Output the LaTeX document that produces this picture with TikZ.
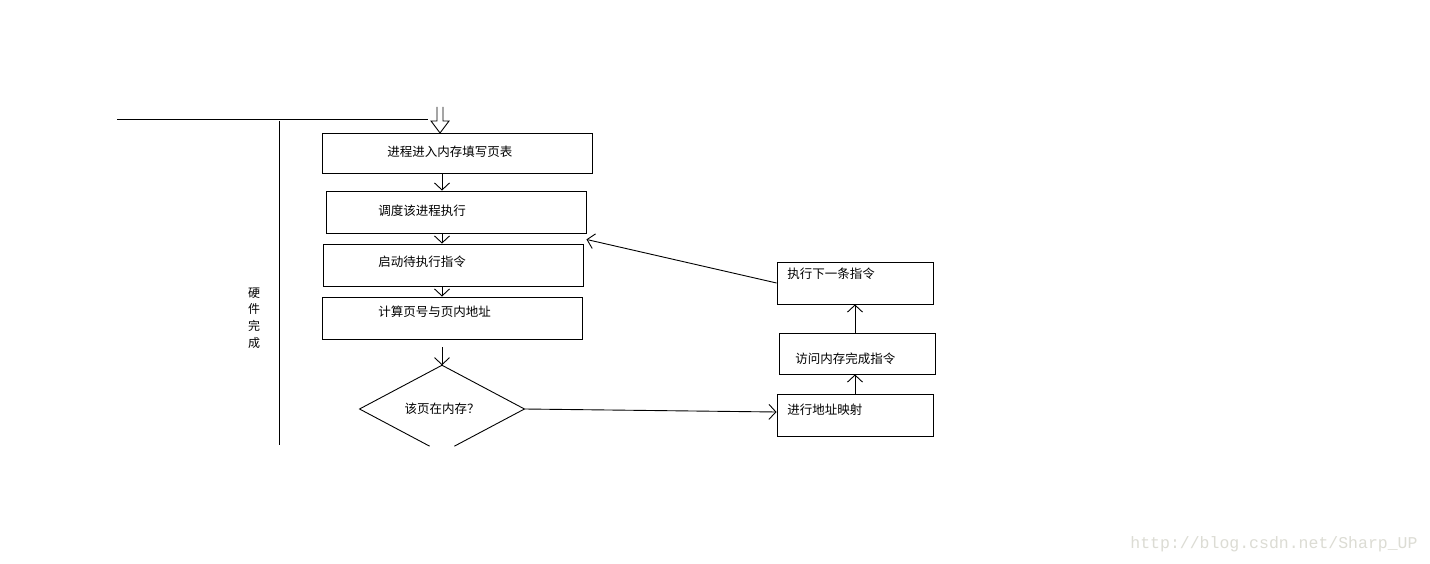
\documentclass[tikz,border=0pt]{standalone}
\usepackage{fontspec}
\setmonofont{Liberation Mono}
\newfontfamily\cjk{Noto Sans CJK SC}
\usetikzlibrary{arrows.meta,calc,shapes.geometric}
\definecolor{marklight}{RGB}{220,220,212}
\tikzstyle{box} = [draw, rectangle, inner sep=0pt, minimum width=156pt, minimum height=42pt]
\tikzstyle{txt} = [anchor=west, inner sep=0pt, font=\cjk\fontsize{12.5}{14}\selectfont]
\tikzstyle{arrow} = [->, >={Straight Barb[length=7pt,width=15pt]}]

\begin{document}
\begin{tikzpicture}[x=1pt, y=-1pt, line width=0.9pt]
\useasboundingbox[fill=white] (0,0) rectangle (1430,564);
% left column
\node (b1) at (457,153) [box, minimum width=270pt, minimum height=40pt] {};
\node (b2) at (456,212) [box, minimum width=260pt] {};
\node (b3) at (453,265) [box, minimum width=260pt] {};
\node (b4) at (452,318) [box, minimum width=260pt] {};
\node (t1) at (387,152) [txt] {进程进入内存填写页表};
\node (t2) at (378,211) [txt] {调度该进程执行};
\node (t3) at (378,262) [txt] {启动待执行指令};
\node (t4) at (378,312) [txt] {计算页号与页内地址};
\node (d) at (442,409) [diamond, inner sep=0pt, minimum width=164pt, minimum height=80pt,
  font=\cjk\fontsize{12.5}{14}\selectfont] {该页在内存？};
% right column
\node (r1) at (855,283) [box] {};
\node (r2) at (857,353.5) [box, minimum height=41pt] {};
\node (r3) at (855,415) [box] {};
\node (t5) at (787,274) [txt] {执行下一条指令};
\node (t6) at (795,359) [txt] {访问内存完成指令};
\node (t7) at (787,410) [txt] {进行地址映射};
% hardware part
\draw (117,119) -- (428,119);
\draw (279,121) -- (279,445);
\node (hw) at (254,318) [align=center, inner sep=0pt,
  font=\cjk\fontsize{12}{16.7}\selectfont] {硬\\件\\完\\成};
% entry arrow
\draw (437,107) -- (437,121) -- (431,121) -- (440,133) -- (449,121) -- (443,121) -- (443,107);
% diamond, bottom cut off
\draw ($(d.west)!0.85!(d.south)$) -- (d.west) -- (d.north) -- (d.east) -- ($(d.east)!0.85!(d.south)$);
% flow
\draw[arrow] (b1.south -| d.north) -- (b2.north -| d.north);
\draw[arrow] (b2.south -| d.north) -- (b3.north -| d.north);
\draw[arrow] (b3.south -| d.north) -- (b4.north -| d.north);
\draw[arrow] ([yshift=-8pt]b4.south -| d.north) -- (d.north);
\draw[arrow] (d.east) -- ([yshift=3pt]r3.west);
\draw[arrow] (r3.north) -- (r3.north |- r2.south);
\draw[arrow] (r1.south |- r2.north) -- (r1.south);
\draw[arrow] (r1.west) -- ([yshift=-6pt]b2.south east);
% watermark
\node (wm) at (1418,544) [anchor=east, inner sep=0pt, text=marklight,
  font=\ttfamily\fontsize{16.5}{18}\selectfont] {http://blog.csdn.net/Sharp\_UP};
\end{tikzpicture}
\end{document}
